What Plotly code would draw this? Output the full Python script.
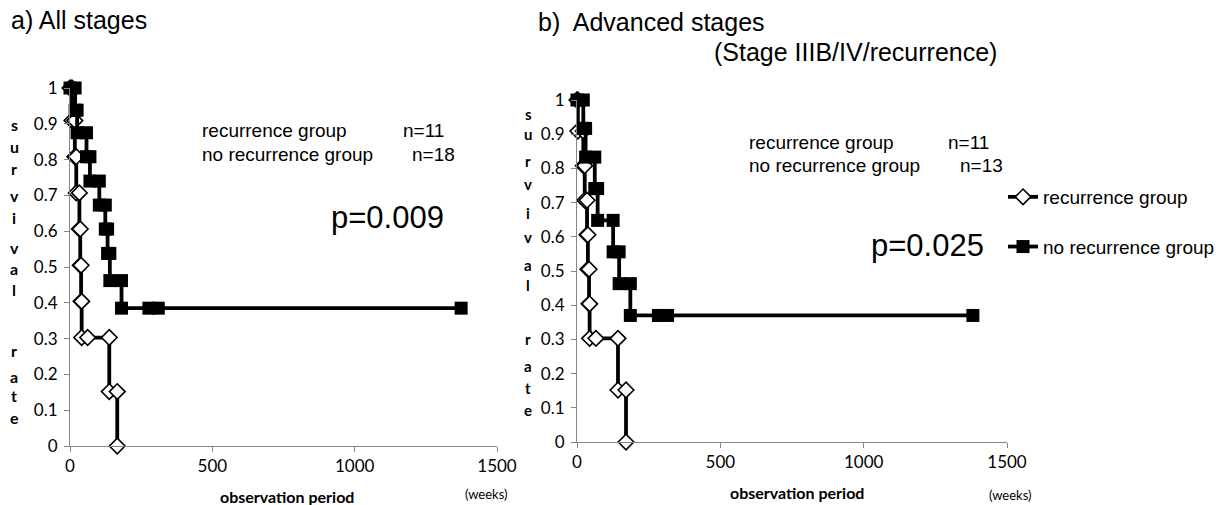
import plotly.graph_objects as go

# ---------------- data ----------------
x_tick_vals = [0, 500, 1000, 1500]
x_tick_text = ["0", "500", "1000", "1500"]
y_tick_vals = [0, 0.1, 0.2, 0.3, 0.4, 0.5, 0.6, 0.7, 0.8, 0.9, 1]
y_tick_text = ["0", "0.1", "0.2", "0.3", "0.4", "0.5", "0.6", "0.7", "0.8", "0.9", "1"]

series_names = ["recurrence group", "no recurrence group"]

# a) All stages
rec_a_weeks = [0, 7, 7, 17, 17, 22, 22, 33, 33, 36, 36, 39, 39, 41, 41, 62, 138, 138, 166, 166]
rec_a_surv = [1, 1, 0.909, 0.909, 0.808, 0.808, 0.707, 0.707, 0.606, 0.606, 0.505, 0.505,
              0.404, 0.404, 0.303, 0.303, 0.303, 0.152, 0.152, 0]
norec_a_weeks = [0, 18, 18, 25, 25, 58, 58, 70, 70, 103, 103, 124, 124, 132, 132, 140, 140,
                 181, 181, 277, 310, 1374]
norec_a_surv = [1, 1, 0.938, 0.938, 0.875, 0.875, 0.808, 0.808, 0.740, 0.740, 0.673, 0.673,
                0.606, 0.606, 0.538, 0.538, 0.462, 0.462, 0.385, 0.385, 0.385, 0.385]

# b) Advanced stages
rec_b_weeks = [0, 3, 3, 22, 22, 27, 27, 35, 35, 38, 38, 42, 42, 44, 44, 66, 143, 143, 171, 171]
rec_b_surv = [1, 1, 0.909, 0.909, 0.808, 0.808, 0.707, 0.707, 0.606, 0.606, 0.505, 0.505,
              0.404, 0.404, 0.303, 0.303, 0.303, 0.152, 0.152, 0]
norec_b_weeks = [0, 22, 22, 30, 30, 62, 62, 72, 72, 126, 126, 147, 147, 186, 186, 284, 316, 1381]
norec_b_surv = [1, 1, 0.917, 0.917, 0.833, 0.833, 0.741, 0.741, 0.648, 0.648, 0.556, 0.556,
                0.463, 0.463, 0.370, 0.370, 0.370, 0.370]

n_text_a = ["n=11", "n=18"]
n_text_b = ["n=11", "n=13"]
p_text_a = "p=0.009"
p_text_b = "p=0.025"
title_a = "a) All stages"
title_b1 = "b)  Advanced stages"
title_b2 = "(Stage IIIB/IV/recurrence)"
y_title = "survival rate"
x_title = "observation period"
x_unit = "(weeks)"

# ---------------- layout helpers ----------------
W, H = 1229, 505


def px(x):
    return x / W


def py(y):
    return 1 - y / H


ARIAL = "Liberation Sans, Arial, sans-serif"
CAL = "Lato, Open Sans, sans-serif"
NARROW = "Liberation Sans Narrow, Lato, sans-serif"
AXC = "#868686"

fig = go.Figure()

rec_marker = dict(symbol="diamond", size=12, color="white", line=dict(color="black", width=1.6))
norec_marker = dict(symbol="square", size=13, color="black", line=dict(color="black", width=0))
line_style = dict(color="black", width=3.8)

fig.add_trace(go.Scatter(x=rec_a_weeks, y=rec_a_surv, mode="lines+markers", name=series_names[0],
                         legendgroup="rec", marker=rec_marker, line=line_style,
                         xaxis="x", yaxis="y", cliponaxis=False))
fig.add_trace(go.Scatter(x=norec_a_weeks, y=norec_a_surv, mode="lines+markers", name=series_names[1],
                         legendgroup="norec", marker=norec_marker, line=line_style,
                         xaxis="x", yaxis="y", cliponaxis=False))
fig.add_trace(go.Scatter(x=rec_b_weeks, y=rec_b_surv, mode="lines+markers", name=series_names[0],
                         legendgroup="rec", showlegend=False, marker=rec_marker, line=line_style,
                         xaxis="x2", yaxis="y2", cliponaxis=False))
fig.add_trace(go.Scatter(x=norec_b_weeks, y=norec_b_surv, mode="lines+markers", name=series_names[1],
                         legendgroup="norec", showlegend=False, marker=norec_marker, line=line_style,
                         xaxis="x2", yaxis="y2", cliponaxis=False))

xaxis_common = dict(range=[0, 1500], tickvals=x_tick_vals, ticktext=x_tick_text, ticks="outside",
                    ticklen=5, tickcolor=AXC, showline=True, linecolor=AXC, linewidth=1,
                    showgrid=False, zeroline=False, tickfont=dict(family=NARROW, size=17, color="black"),
                    fixedrange=True, automargin=False)
yaxis_common = dict(range=[0, 1], tickvals=y_tick_vals, ticktext=y_tick_text, ticks="outside",
                    ticklen=5, tickcolor=AXC, showline=True, linecolor=AXC, linewidth=1,
                    showgrid=False, zeroline=False, tickfont=dict(family=CAL, size=17, color="black"),
                    ticklabelstandoff=3, fixedrange=True, automargin=False)

fig.update_layout(
    width=W, height=H,
    margin=dict(l=0, r=0, t=0, b=0),
    paper_bgcolor="white", plot_bgcolor="white",
    xaxis=dict(domain=[px(70), px(497)], anchor="y", **xaxis_common),
    yaxis=dict(domain=[py(446), py(88)], anchor="x", **yaxis_common),
    xaxis2=dict(domain=[px(577), px(1007)], anchor="y2", **xaxis_common),
    yaxis2=dict(domain=[py(442), py(100)], anchor="x2", **yaxis_common),
    legend=dict(x=px(1003), y=py(178), xanchor="left", yanchor="top",
                font=dict(family=ARIAL, size=19, color="black"),
                tracegroupgap=22, bgcolor="rgba(0,0,0,0)", itemwidth=30),
    showlegend=True,
)

ann = []


def txt(text, x, y, size, family=ARIAL, xanchor="left", bold=False):
    t = f"<b>{text}</b>" if bold else text
    ann.append(dict(text=t, x=px(x), y=py(y), xref="paper", yref="paper", xanchor=xanchor,
                    yanchor="middle", showarrow=False, font=dict(family=family, size=size, color="black")))


# titles
txt(title_a, 9, 20, 25)
txt(title_b1, 536, 22, 25)
txt(title_b2, 712, 52, 25)

# group labels
txt(series_names[0], 200, 130, 19)
txt(n_text_a[0], 401, 130, 19)
txt(series_names[1], 200, 154, 19)
txt(n_text_a[1], 410, 154, 19)
txt(series_names[0], 747, 142, 19)
txt(n_text_b[0], 946, 142, 19)
txt(series_names[1], 747, 165, 19)
txt(n_text_b[1], 958, 165, 19)

# p values
txt(p_text_a, 329, 218, 31)
txt(p_text_b, 869, 245, 31)

# vertical axis titles (one letter per line)
letters = [c for c in y_title if c != " "]
left_y = [124, 146, 168, 195, 218, 247, 268, 289, 350, 376, 395, 417]
right_y = [114, 134, 161, 184, 213, 237, 265, 285, 339, 366, 388, 410]
for c, yy in zip(letters, left_y):
    txt(c, 14, yy, 16, family=CAL, xanchor="center", bold=True)
for c, yy in zip(letters, right_y):
    txt(c, 528, yy, 15, family=CAL, xanchor="center", bold=True)

# x axis titles
txt(x_title, 287, 496, 16, family=NARROW, xanchor="center", bold=True)
txt(x_unit, 486, 494, 13, family=NARROW, xanchor="center")
txt(x_title, 797, 492, 16, family=NARROW, xanchor="center", bold=True)
txt(x_unit, 1010, 495, 13, family=NARROW, xanchor="center")

fig.update_layout(annotations=ann)

fig.write_html("out.html",
               post_script="document.body.style.margin='0';document.body.style.overflow='hidden';")
